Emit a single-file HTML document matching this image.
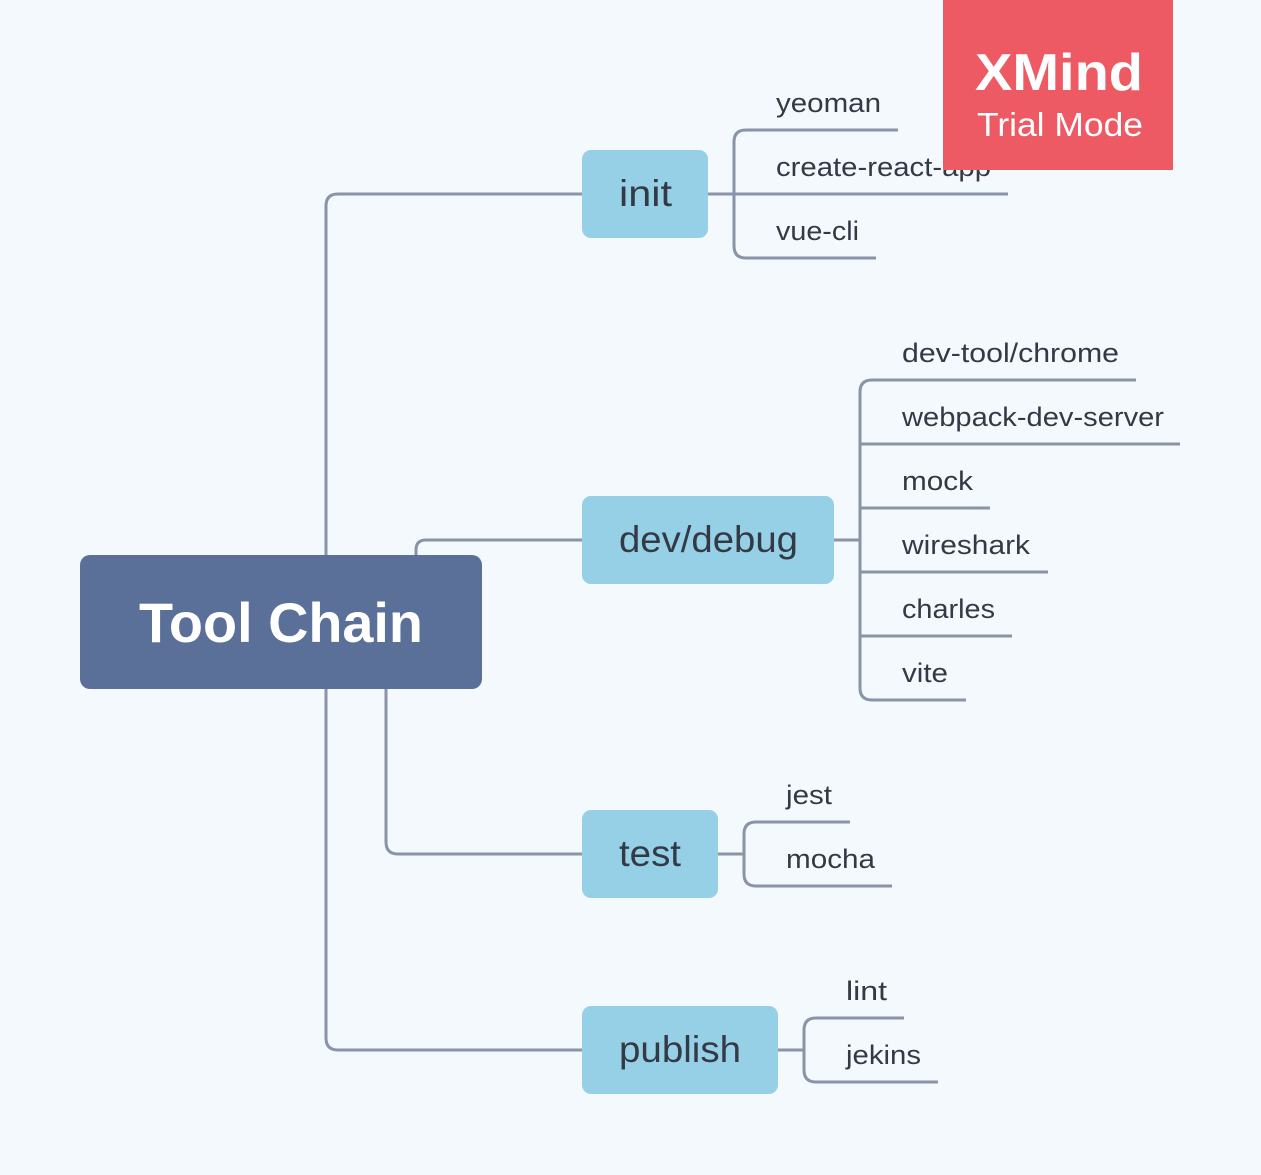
<!DOCTYPE html>
<html><head><meta charset="utf-8"><style>
html,body{margin:0;padding:0;background:#f4f9fd;}
svg{display:block;font-family:"Liberation Sans",sans-serif;}
</style></head><body>
<svg width="1261" height="1175" viewBox="0 0 1261 1175">
<rect width="1261" height="1175" fill="#f4f9fd"/>
<g fill="none" stroke="#8a94a8" stroke-width="3">
<path d="M326 555 V206 Q326 194 338 194 H582"/>
<path d="M326 689 V1038 Q326 1050 338 1050 H582"/>
<path d="M386 689 V842 Q386 854 398 854 H582"/>
<path d="M416 555 V550 Q416 540 426 540 H582"/>
<path d="M708 194 H734"/>
<path d="M760 130 H746 Q734 130 734 142 V246 Q734 258 746 258 H760"/>
<path d="M758 130 H898 M734 194 H1008 M758 258 H876"/>
<path d="M834 540 H860"/>
<path d="M886 380 H872 Q860 380 860 392 V688 Q860 700 872 700 H886"/>
<path d="M860 444 H1180 M860 508 H990 M860 572 H1048 M860 636 H1012 M884 380 H1136 M884 700 H966"/>
<path d="M718 854 H744"/>
<path d="M770 822 H756 Q744 822 744 834 V874 Q744 886 756 886 H770"/>
<path d="M768 822 H850 M768 886 H892"/>
<path d="M778 1050 H804"/>
<path d="M830 1018 H816 Q804 1018 804 1030 V1070 Q804 1082 816 1082 H830"/>
<path d="M828 1018 H904 M828 1082 H938"/>
</g>
<rect x="80" y="555" width="402" height="134" rx="10" fill="#5a7099"/>
<text x="139" y="642" fill="#fff" font-size="56" font-weight="bold" textLength="284" lengthAdjust="spacingAndGlyphs">Tool Chain</text>
<g fill="#95d0e6">
<rect x="582" y="150" width="126" height="88" rx="9"/>
<rect x="582" y="496" width="252" height="88" rx="9"/>
<rect x="582" y="810" width="136" height="88" rx="9"/>
<rect x="582" y="1006" width="196" height="88" rx="9"/>
</g>
<g fill="#333a45" font-size="37" lengthAdjust="spacingAndGlyphs">
<text x="619" y="206" textLength="53" lengthAdjust="spacingAndGlyphs">init</text>
<text x="619" y="552" textLength="179" lengthAdjust="spacingAndGlyphs">dev/debug</text>
<text x="619" y="866" textLength="62" lengthAdjust="spacingAndGlyphs">test</text>
<text x="619" y="1062" textLength="122" lengthAdjust="spacingAndGlyphs">publish</text>
</g>
<g fill="#333a45" font-size="27">
<text x="776" y="112" textLength="105" lengthAdjust="spacingAndGlyphs">yeoman</text>
<text x="776" y="176" textLength="215" lengthAdjust="spacingAndGlyphs">create-react-app</text>
<text x="776" y="240" textLength="83" lengthAdjust="spacingAndGlyphs">vue-cli</text>
<text x="902" y="362" textLength="217" lengthAdjust="spacingAndGlyphs">dev-tool/chrome</text>
<text x="902" y="426" textLength="262" lengthAdjust="spacingAndGlyphs">webpack-dev-server</text>
<text x="902" y="490" textLength="71" lengthAdjust="spacingAndGlyphs">mock</text>
<text x="902" y="554" textLength="128" lengthAdjust="spacingAndGlyphs">wireshark</text>
<text x="902" y="618" textLength="93" lengthAdjust="spacingAndGlyphs">charles</text>
<text x="902" y="682" textLength="46" lengthAdjust="spacingAndGlyphs">vite</text>
<text x="786" y="804" textLength="46" lengthAdjust="spacingAndGlyphs">jest</text>
<text x="786" y="868" textLength="89" lengthAdjust="spacingAndGlyphs">mocha</text>
<text x="846" y="1000" textLength="41" lengthAdjust="spacingAndGlyphs">lint</text>
<text x="846" y="1064" textLength="75" lengthAdjust="spacingAndGlyphs">jekins</text>
</g>
<rect x="943" y="0" width="230" height="170" fill="#ee5a63"/>
<text x="975" y="90" fill="#fff" font-size="52" font-weight="bold" textLength="168" lengthAdjust="spacingAndGlyphs">XMind</text>
<text x="977" y="136" fill="#fff" font-size="33" textLength="166" lengthAdjust="spacingAndGlyphs">Trial Mode</text>
</svg>
</body></html>
